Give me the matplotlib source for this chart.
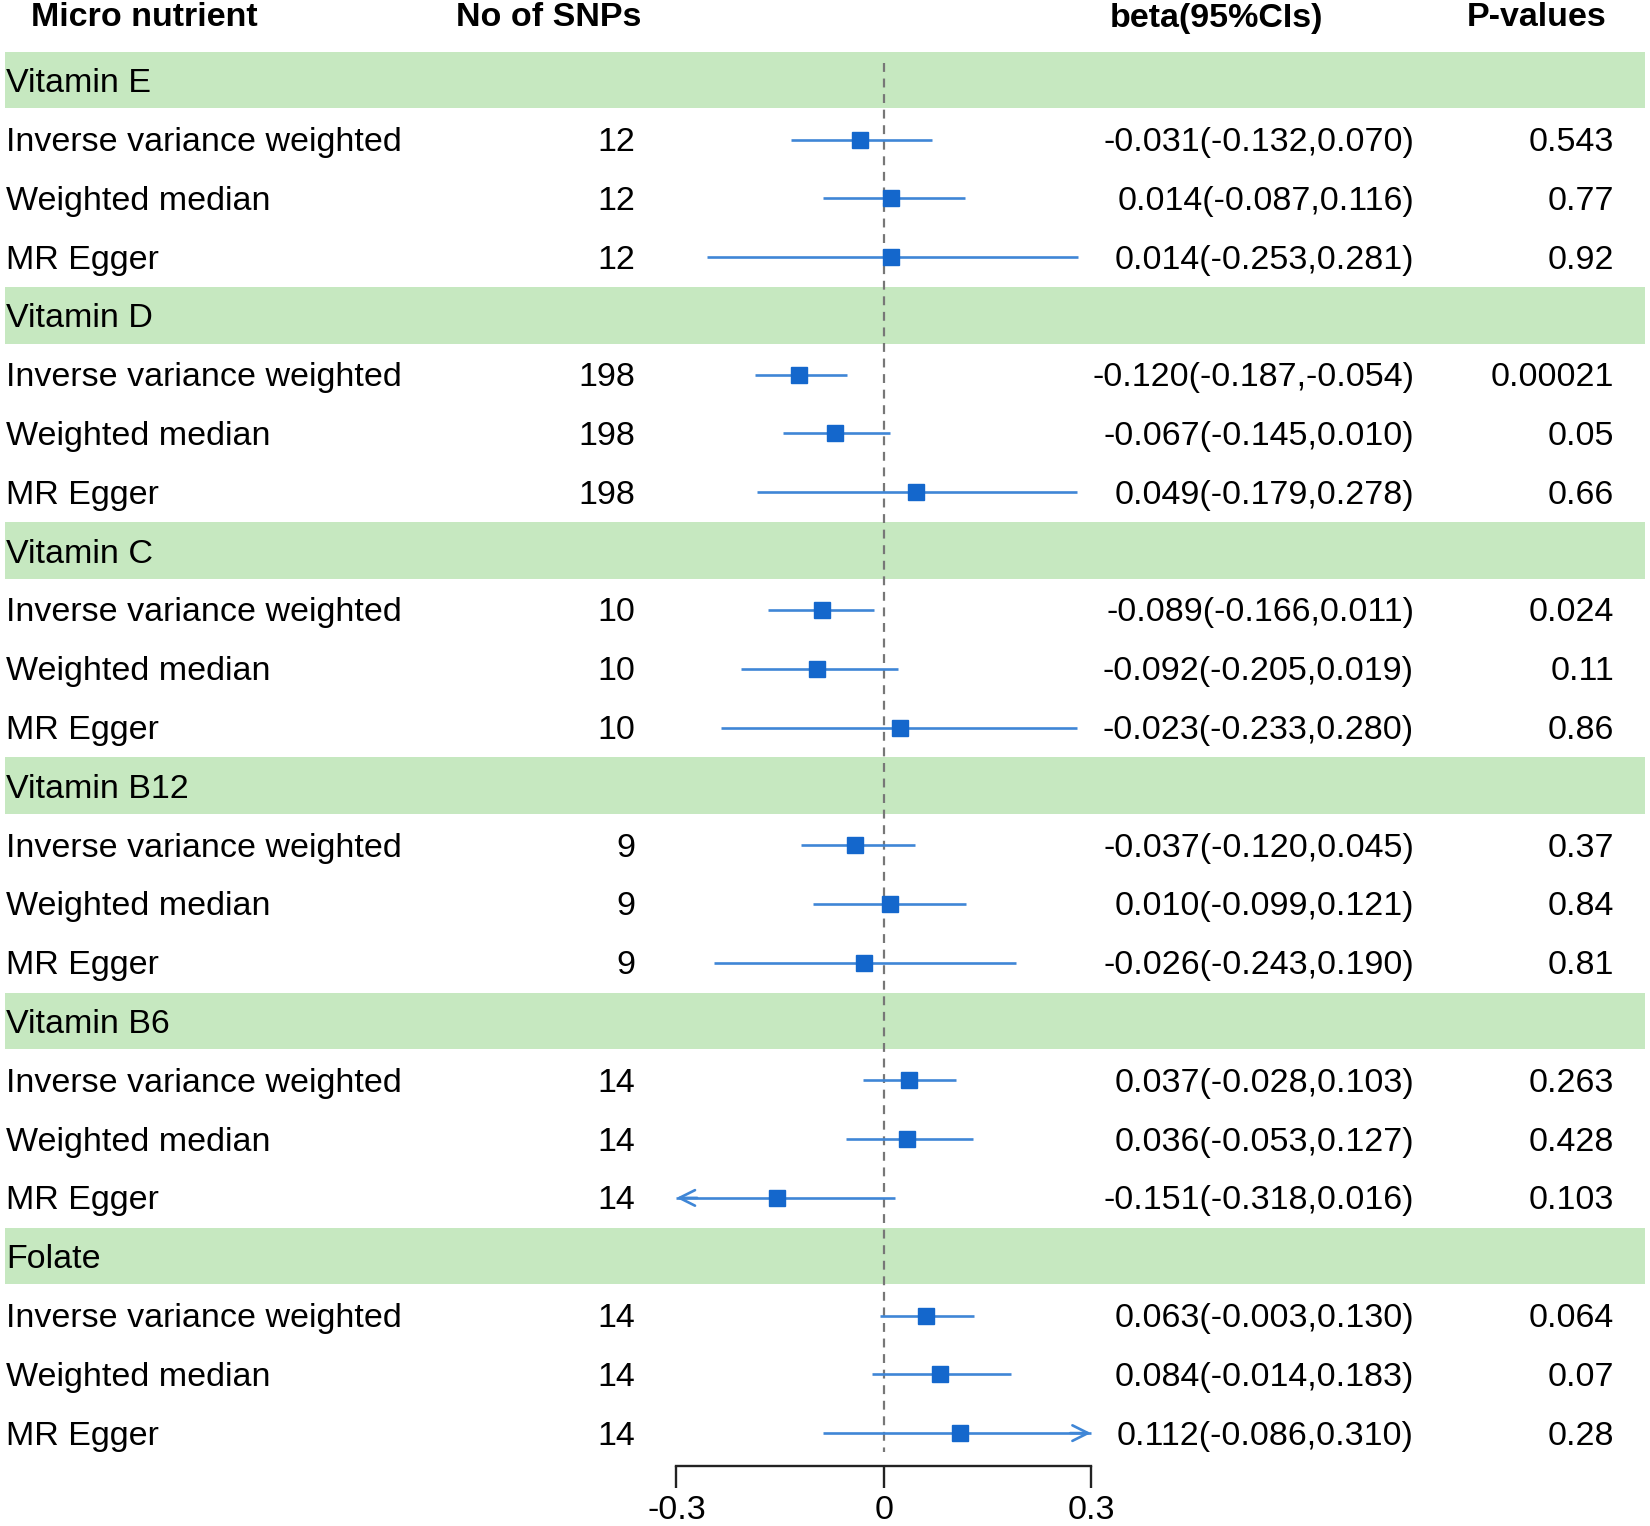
import matplotlib
matplotlib.use("Agg")
import matplotlib.pyplot as plt

plt.rcParams['font.family'] = ['Liberation Sans', 'DejaVu Sans']

# Data
groups = ["Vitamin E", "Vitamin D", "Vitamin C", "Vitamin B12", "Vitamin B6", "Folate"]
methods = ["Inverse variance weighted", "Weighted median", "MR Egger"]
n_snps = [12, 198, 10, 9, 14, 14]

beta_text = [
    ["-0.031(-0.132,0.070)", "0.014(-0.087,0.116)", "0.014(-0.253,0.281)"],
    ["-0.120(-0.187,-0.054)", "-0.067(-0.145,0.010)", "0.049(-0.179,0.278)"],
    ["-0.089(-0.166,0.011)", "-0.092(-0.205,0.019)", "-0.023(-0.233,0.280)"],
    ["-0.037(-0.120,0.045)", "0.010(-0.099,0.121)", "-0.026(-0.243,0.190)"],
    ["0.037(-0.028,0.103)", "0.036(-0.053,0.127)", "-0.151(-0.318,0.016)"],
    ["0.063(-0.003,0.130)", "0.084(-0.014,0.183)", "0.112(-0.086,0.310)"],
]
p_text = [
    ["0.543", "0.77", "0.92"],
    ["0.00021", "0.05", "0.66"],
    ["0.024", "0.11", "0.86"],
    ["0.37", "0.84", "0.81"],
    ["0.263", "0.428", "0.103"],
    ["0.064", "0.07", "0.28"],
]

# plotted estimates and intervals (as drawn)
est = [
    [-0.035, 0.011, 0.011],
    [-0.123, -0.070, 0.047],
    [-0.090, -0.096, 0.023],
    [-0.041, 0.009, -0.029],
    [0.037, 0.034, -0.154],
    [0.061, 0.082, 0.111],
]
lo = [
    [-0.134, -0.088, -0.256],
    [-0.187, -0.146, -0.183],
    [-0.168, -0.206, -0.235],
    [-0.120, -0.102, -0.245],
    [-0.030, -0.055, -0.318],
    [-0.005, -0.017, -0.088],
]
hi = [
    [0.070, 0.117, 0.282],
    [-0.053, 0.009, 0.280],
    [-0.014, 0.020, 0.280],
    [0.046, 0.119, 0.192],
    [0.104, 0.129, 0.017],
    [0.131, 0.184, 0.310],
]

headers = ["Micro nutrient", "No of SNPs", "beta(95%CIs)", "P-values"]
xticks = [-0.3, 0, 0.3]
xlim_plot = (-0.3, 0.3)

W, H = 1650, 1526
fig = plt.figure(figsize=(W / 100, H / 100), dpi=100)

# background axes in pixel coordinates
bg = fig.add_axes([0, 0, 1, 1])
bg.set_xlim(0, W)
bg.set_ylim(H, 0)
bg.axis('off')

row0, pitch = 80.7, 58.8
fs = 24.5
ty = 3  # text offset down
band_col = "#c6e8c0"
line_col = "#3f86d6"
sq_col = "#1467cc"

# headers
hx = [144, 549, 1217, 1537]
for x, h in zip(hx, headers):
    bg.text(x, 18, h, ha='center', va='center', fontsize=fs, fontweight='bold')

rows_y = []
r = 0
for g, grp in enumerate(groups):
    yc = row0 + r * pitch
    bg.axhspan(yc - 0.49 * pitch, yc + 0.47 * pitch, xmin=5 / W, xmax=1645 / W,
               color=band_col, zorder=0, lw=0)
    bg.text(6, yc + ty, grp, ha='left', va='center', fontsize=fs)
    r += 1
    row_g = []
    for m, meth in enumerate(methods):
        yc = row0 + r * pitch
        bg.text(6, yc + ty, meth, ha='left', va='center', fontsize=fs)
        bg.text(635, yc + ty, str(n_snps[g]), ha='right', va='center', fontsize=fs)
        bg.text(1414, yc + ty, beta_text[g][m], ha='right', va='center', fontsize=fs)
        bg.text(1614, yc + ty, p_text[g][m], ha='right', va='center', fontsize=fs)
        row_g.append(yc)
        r += 1
    rows_y.append(row_g)

# forest axes
axis_y = 1466
ax = fig.add_axes([0, (H - axis_y) / H, 1, axis_y / H])
ax.patch.set_alpha(0)
px_per_unit = 690.7
zero_px = 883.7
ax.set_xlim(-zero_px / px_per_unit, (W - zero_px) / px_per_unit)
ax.set_ylim(axis_y, 0)
for s in ['top', 'right', 'left']:
    ax.spines[s].set_visible(False)
ax.spines['bottom'].set_bounds(*xlim_plot)
ax.spines['bottom'].set_linewidth(1.7)
ax.spines['bottom'].set_color('#222222')
ax.set_yticks([])
ax.set_xticks(xticks)
ax.set_xticklabels(["-0.3", "0", "0.3"])
ax.tick_params(axis='x', direction='out', length=16, width=1.7, color='#222222',
               labelsize=fs, pad=5)

ax.vlines(0, 63, 1452, colors='#777777', linestyles=(0, (4, 3)), lw=1.6, zorder=1)

for g in range(len(groups)):
    for m in range(len(methods)):
        y = rows_y[g][m]
        l, h = lo[g][m], hi[g][m]
        lc, hc = max(l, xlim_plot[0]), min(h, xlim_plot[1])
        ax.plot([lc, hc], [y, y], color=line_col, lw=1.9, zorder=2,
                solid_capstyle='butt')
        if l < xlim_plot[0]:
            ax.annotate('', xy=(lc, y), xytext=(lc + 0.03, y),
                        arrowprops=dict(arrowstyle='->', color=line_col, lw=1.9,
                                        mutation_scale=28, shrinkA=0, shrinkB=0))
        if h > xlim_plot[1]:
            ax.annotate('', xy=(hc, y), xytext=(hc - 0.03, y),
                        arrowprops=dict(arrowstyle='->', color=line_col, lw=1.9,
                                        mutation_scale=28, shrinkA=0, shrinkB=0))
        ax.plot(est[g][m], y, marker='s', ms=11, color=sq_col, mec=sq_col, zorder=3)

fig.savefig("out.png", dpi=100)
